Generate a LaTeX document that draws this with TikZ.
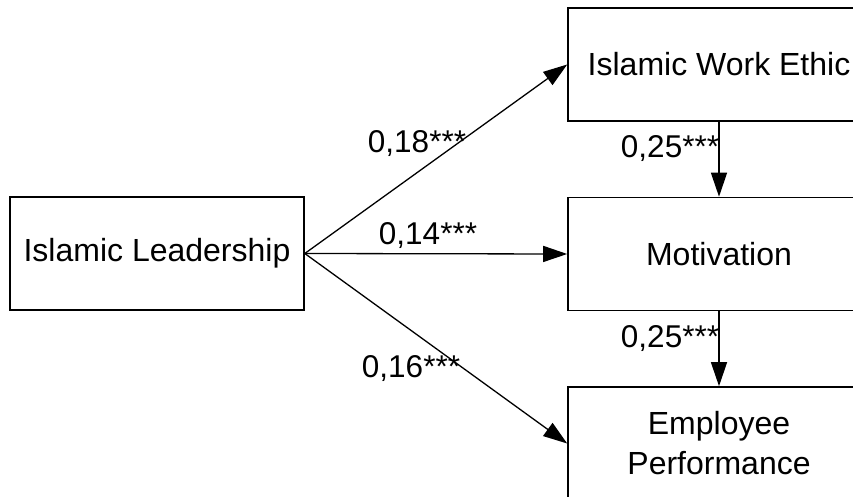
\documentclass[tikz,border=0pt]{standalone}
\usepackage{fontspec}
\setmainfont{Liberation Sans}
\usetikzlibrary{arrows.meta}
\begin{document}
\begin{tikzpicture}[x=1pt,y=-1pt,
  box/.style={draw=black,line width=1.6pt,minimum height=113pt,inner sep=0pt,align=center,
    font=\fontsize{32}{40}\selectfont},
  conn/.style={line width=1.3pt,-{Triangle[length=24pt,width=16pt]}},
  lbl/.style={inner sep=0pt,font=\fontsize{31.5}{37}\selectfont}]
\useasboundingbox (0,0) rectangle (853,497);
\node[box,minimum width=294pt] (lead) at (157,253.5) {Islamic Leadership};
\node[box,minimum width=302pt] (iwe) at (719,64.5) {Islamic Work Ethic};
\node[box,minimum width=302pt] (mot) at (719,254) {Motivation};
\node[box,minimum width=302pt] (emp) at (719,443.5) {Employee\\Performance};
\draw[conn] (lead.east) -- (iwe.west);
\draw[conn] (lead.east) -- (mot.west);
\draw[conn] (lead.east) -- (emp.west);
\draw[conn] (iwe.south) -- (mot.north);
\draw[conn] (mot.south) -- (emp.north);
\node[lbl] (l1) at (417,144) {0,18***};
\node[lbl] (l2) at (428,236) {0,14***};
\node[lbl] (l3) at (411,369) {0,16***};
\node[lbl] (l4) at (670,149) {0,25***};
\node[lbl] (l5) at (670,339) {0,25***};
\end{tikzpicture}
\end{document}
